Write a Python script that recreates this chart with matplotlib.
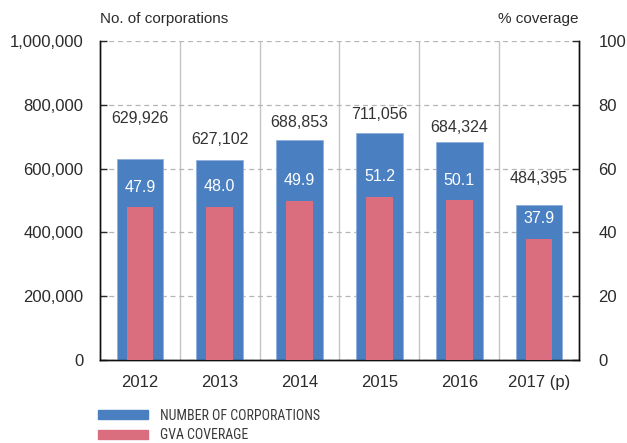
import matplotlib
matplotlib.use("Agg")
import matplotlib.pyplot as plt
import matplotlib.patches as mpatches
import numpy as np

years = ["2012", "2013", "2014", "2015", "2016", "2017 (p)"]
corporations = [629926, 627102, 688853, 711056, 684324, 484395]
gva_coverage = [47.9, 48.0, 49.9, 51.2, 50.1, 37.9]

BLUE = "#4A7FC1"
PINK = "#DB6E7E"
TEXT = "#2b2b2b"

plt.rcParams["font.family"] = ["Liberation Sans", "DejaVu Sans"]

fig = plt.figure(figsize=(6.27, 4.43), dpi=100)
ax = fig.add_axes([0.1595, 0.1874, 0.7639, 0.72])
ax2 = ax.twinx()

x = np.arange(len(years))
ax.bar(x, corporations, width=0.585, color=BLUE, edgecolor="#8fb0dc",
       linewidth=0.6, zorder=3)
ax2.bar(x, gva_coverage, width=0.335, color=PINK, zorder=3)

ax.set_xlim(-0.5, len(years) - 0.5)
ax.set_ylim(0, 1000000)
ax2.set_ylim(0, 100)
ax.set_yticks(np.arange(0, 1000001, 200000))
ax2.set_yticks(np.arange(0, 101, 20))
ax.set_yticklabels([f"{v:,}" for v in range(0, 1000001, 200000)])
ax.set_xticks(x)
ax.set_xticklabels(years)

# grid: dashed horizontals, solid verticals between categories
ax.grid(axis="y", linestyle=(0, (4, 3)), color="#b5b5b5", linewidth=0.9, zorder=0)
for b in np.arange(0.5, len(years) - 0.5, 1.0):
    ax.axvline(b, color="#c4c4c4", linewidth=1.0, zorder=0)

for a in (ax, ax2):
    a.spines["top"].set_visible(False)
    for s in ("left", "right", "bottom"):
        a.spines[s].set_color("#111111")
        a.spines[s].set_linewidth(1.0)
    a.tick_params(axis="y", direction="in", length=5, width=1.0,
                  labelsize=12, colors=TEXT, pad=12)
ax.tick_params(axis="x", length=0, labelsize=12, colors=TEXT, pad=11)
ax2.tick_params(axis="y", pad=14)

# value labels, centre offsets in points above bar tops (placed by hand in the original)
blue_off = [29.5, 15, 13, 13.7, 10, 19.4]
for xi, v, off in zip(x, corporations, blue_off):
    ax.annotate(f"{v:,}", (xi, v), xytext=(0, off), textcoords="offset points",
                ha="center", va="center", fontsize=11.5, color="#333333", zorder=5)
for xi, v in zip(x, gva_coverage):
    ax2.annotate(f"{v:.1f}", (xi, v), xytext=(0, 14.5), textcoords="offset points",
                 ha="center", va="center", fontsize=11.5, color="white", zorder=5)

fig.text(0.1595, 0.958, "No. of corporations", ha="left", va="center",
         fontsize=11, color=TEXT)
fig.text(0.9234, 0.958, "% coverage", ha="right", va="center",
         fontsize=11, color=TEXT)

# legend below the axes
handles = [mpatches.Patch(color=BLUE, label="NUMBER OF CORPORATIONS"),
           mpatches.Patch(color=PINK, label="GVA COVERAGE")]
leg = fig.legend(handles=handles, loc="upper left", bbox_to_anchor=(0.137, 0.106),
                 frameon=False, handlelength=3.6, handleheight=0.68,
                 handletextpad=0.85, labelspacing=0.42, borderpad=0.4,
                 prop={"family": "Roboto Condensed", "weight": 400, "size": 10})
for t in leg.get_texts():
    t.set_color("#3a3a3a")

fig.savefig("out.png", dpi=100)
